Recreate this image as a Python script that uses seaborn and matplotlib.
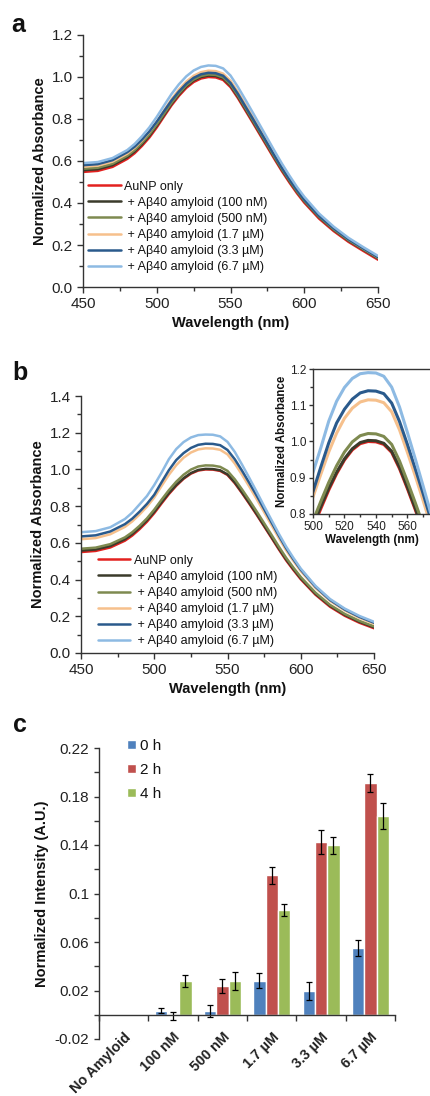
import numpy as np
import pandas as pd
import matplotlib
matplotlib.use("Agg")
import matplotlib.pyplot as plt
import seaborn as sns
from matplotlib.ticker import MultipleLocator, FixedLocator, FuncFormatter

# --- Data ---
WAVELENGTH = [450, 460, 470, 480, 485, 490, 495, 500, 505, 510, 515, 520, 525, 530,
              535, 540, 545, 550, 555, 560, 565, 570, 575, 580, 585, 590, 595, 600,
              610, 620, 630, 640, 650]

# panel a spectra
A_AUNP = [.548, .553, .572, .610, .637, .672, .712, .760, .813, .865, .910, .948, .976, .993,
          1.000, .998, .986, .952, .900, .842, .784, .725, .666, .607, .550, .497, .447, .402,
          .326, .266, .215, .172, .130]
A_100NM = [.556, .561, .580, .618, .645, .680, .720, .768, .820, .872, .917, .955, .983, 1.000,
           1.007, 1.005, .993, .959, .907, .849, .791, .732, .673, .614, .557, .504, .454, .409,
           .333, .272, .221, .178, .136]
A_500NM = [.563, .568, .587, .625, .652, .687, .727, .774, .826, .877, .922, .960, .988, 1.005,
           1.012, 1.010, .998, .964, .912, .854, .795, .736, .677, .617, .560, .507, .456, .411,
           .335, .274, .223, .180, .138]
A_1_7UM = [.573, .578, .597, .635, .663, .698, .739, .787, .841, .894, .940, .978, 1.006, 1.023,
           1.030, 1.028, 1.016, .982, .929, .870, .811, .751, .691, .631, .572, .518, .466, .420,
           .342, .280, .228, .184, .142]
A_3_3UM = [.580, .585, .604, .642, .668, .702, .741, .787, .838, .888, .931, .968, .996, 1.013,
           1.020, 1.018, 1.006, .972, .920, .861, .803, .743, .684, .624, .566, .512, .462, .416,
           .339, .279, .227, .184, .142]
A_6_7UM = [.590, .595, .614, .652, .681, .718, .760, .810, .865, .919, .965, 1.003, 1.031, 1.048,
           1.055, 1.053, 1.041, 1.007, .953, .893, .832, .770, .708, .646, .586, .530, .477, .430,
           .350, .287, .234, .190, .148]

# panel b spectra
B_AUNP = [.550, .556, .575, .612, .640, .675, .715, .762, .815, .866, .911, .949, .977, .994,
          1.000, .999, .992, .970, .925, .870, .812, .752, .690, .628, .565, .505, .452, .402,
          .318, .252, .203, .165, .135]
B_100NM = [.558, .564, .583, .620, .648, .683, .723, .769, .821, .871, .915, .952, .980, .997,
           1.003, 1.002, .995, .973, .929, .874, .816, .756, .694, .632, .570, .510, .457, .407,
           .323, .257, .208, .170, .140]
B_500NM = [.568, .574, .593, .630, .658, .693, .733, .781, .835, .887, .933, .971, .999, 1.016,
           1.022, 1.021, 1.014, .992, .946, .890, .831, .770, .707, .644, .580, .519, .465, .414,
           .329, .262, .213, .175, .145]
B_1_7UM = [.620, .626, .647, .687, .717, .755, .797, .847, .910, .971, 1.023, 1.064, 1.092, 1.109,
           1.115, 1.114, 1.107, 1.082, 1.032, .970, .905, .837, .767, .697, .627, .560, .501, .446,
           .355, .284, .232, .192, .160]
B_3_3UM = [.635, .641, .662, .702, .732, .770, .812, .862, .930, .996, 1.051, 1.089, 1.117, 1.134,
           1.140, 1.139, 1.132, 1.106, 1.055, .992, .925, .856, .784, .712, .640, .571, .510, .454,
           .361, .289, .237, .197, .165]
B_6_7UM = [.658, .664, .685, .730, .765, .810, .855, .915, .983, 1.056, 1.111, 1.149, 1.174, 1.187,
           1.190, 1.189, 1.180, 1.150, 1.095, 1.025, .952, .877, .800, .725, .650, .580, .518, .460,
           .366, .294, .242, .202, .170]

SAMPLES = ["AuNP only", " + Aβ40 amyloid (100 nM)", " + Aβ40 amyloid (500 nM)",
           " + Aβ40 amyloid (1.7 µM)", " + Aβ40 amyloid (3.3 µM)", " + Aβ40 amyloid (6.7 µM)"]
LINE_COLORS = ["#e3211f", "#3b3b2b", "#7e8a50", "#f6c08c", "#2a5a8c", "#8dbae3"]

# panel c bars
CONC_LABELS = ["No Amyloid", "100 nM", "500 nM", "1.7 µM", "3.3 µM", "6.7 µM"]
TIMES = ["0 h", "2 h", "4 h"]
INT_0H = [0.0, 0.0033, 0.0030, 0.0280, 0.0196, 0.0547]
INT_2H = [0.0, -0.0010, 0.0236, 0.1150, 0.1425, 0.1910]
INT_4H = [0.0, 0.0280, 0.0278, 0.0863, 0.1398, 0.1642]
ERR_0H = [0.0, 0.0020, 0.0047, 0.0063, 0.0077, 0.0066]
ERR_2H = [0.0, 0.0030, 0.0055, 0.0069, 0.0096, 0.0077]
ERR_4H = [0.0, 0.0050, 0.0077, 0.0047, 0.0069, 0.0107]
BAR_COLORS = ["#4f81bd", "#c0504d", "#9bbb59"]

W, H = 430, 1096


def spectra_frame(curves):
    rows = []
    for name, vals in zip(SAMPLES, curves):
        for wl, v in zip(WAVELENGTH, vals):
            rows.append({"wl": wl, "absorb": v, "sample": name})
    return pd.DataFrame(rows)


def px_axes(fig, left, top, right, bottom):
    return fig.add_axes([left / W, 1 - bottom / H, (right - left) / W, (bottom - top) / H])


def style_spectrum_axes(ax, ymax):
    sns.despine(ax=ax)
    ax.set_xlim(450, 650)
    ax.set_ylim(0, ymax)
    ax.xaxis.set_major_locator(MultipleLocator(50))
    ax.xaxis.set_minor_locator(MultipleLocator(25))
    ax.yaxis.set_major_locator(MultipleLocator(0.2))
    ax.yaxis.set_minor_locator(MultipleLocator(0.1))
    ax.yaxis.set_major_formatter(FuncFormatter(lambda v, p: f"{v:.1f}"))
    ax.tick_params(which="both", direction="out", labelsize=11, width=1)
    ax.tick_params(which="major", length=4)
    ax.tick_params(which="minor", length=3)
    ax.set_xlabel("Wavelength (nm)", fontsize=10.5, fontweight="bold", labelpad=3)
    ax.set_ylabel("Normalized Absorbance", fontsize=10.5, fontweight="bold", labelpad=3)


def draw_spectra(ax, curves, lw=1.8, legend=True):
    df = spectra_frame(curves)
    pal = dict(zip(SAMPLES, LINE_COLORS))
    sns.lineplot(data=df, x="wl", y="absorb", hue="sample", hue_order=SAMPLES,
                 palette=pal, linewidth=lw, errorbar=None, legend=legend, ax=ax)


def spectra_legend(ax, anchor):
    old = ax.get_legend()
    handles = old.legend_handles
    labels = [t.get_text() for t in old.get_texts()]
    ax.legend(handles, labels, loc="lower left", bbox_to_anchor=anchor, frameon=False,
              fontsize=9, handlelength=2.6, handletextpad=0.3, labelspacing=0.33,
              borderpad=0, borderaxespad=0)


def main():
    sns.set_style("ticks")
    plt.rcParams["font.family"] = ["Liberation Sans", "DejaVu Sans"]
    plt.rcParams.update({
        "axes.edgecolor": "#333333", "axes.linewidth": 1.0,
        "xtick.color": "#333333", "ytick.color": "#333333",
        "xtick.labelcolor": "#222222", "ytick.labelcolor": "#222222",
        "axes.labelcolor": "#111111", "text.color": "#111111",
    })

    fig = plt.figure(figsize=(W / 100, H / 100), dpi=100)

    # --- Panel a ---
    ax_a = px_axes(fig, 83, 35, 378, 287)
    draw_spectra(ax_a, [A_AUNP, A_100NM, A_500NM, A_1_7UM, A_3_3UM, A_6_7UM])
    style_spectrum_axes(ax_a, 1.2)
    spectra_legend(ax_a, (0.017, 0.055))

    # --- Panel b ---
    ax_b = px_axes(fig, 81, 396, 374, 653)
    b_curves = [B_AUNP, B_100NM, B_500NM, B_1_7UM, B_3_3UM, B_6_7UM]
    draw_spectra(ax_b, b_curves)
    style_spectrum_axes(ax_b, 1.4)
    spectra_legend(ax_b, (0.058, 0.022))

    # inset of panel b
    ax_in = px_axes(fig, 313, 369, 431, 514)
    draw_spectra(ax_in, b_curves, lw=2.2, legend=False)
    ax_in.set_xlim(500, 575)
    ax_in.set_ylim(0.8, 1.2)
    ax_in.spines["right"].set_visible(False)
    ax_in.xaxis.set_major_locator(MultipleLocator(20))
    ax_in.xaxis.set_minor_locator(MultipleLocator(10))
    ax_in.yaxis.set_major_locator(MultipleLocator(0.1))
    ax_in.yaxis.set_minor_locator(MultipleLocator(0.05))
    ax_in.yaxis.set_major_formatter(FuncFormatter(lambda v, p: f"{v:.1f}"))
    ax_in.tick_params(which="both", direction="out", labelsize=8.5, width=1, pad=2)
    ax_in.tick_params(which="major", length=3)
    ax_in.tick_params(which="minor", length=2)
    ax_in.set_xlabel("Wavelength (nm)", fontsize=8.4, fontweight="bold", labelpad=1)
    ax_in.set_ylabel("Normalized Absorbance", fontsize=8.3, fontweight="bold", labelpad=1)

    # --- Panel c ---
    ax_c = px_axes(fig, 99, 748, 395, 1039)
    df_c = pd.DataFrame({
        "conc": CONC_LABELS * 3,
        "time": np.repeat(TIMES, len(CONC_LABELS)),
        "value": INT_0H + INT_2H + INT_4H,
    })
    sns.barplot(data=df_c, x="conc", y="value", hue="time", hue_order=TIMES,
                palette=dict(zip(TIMES, BAR_COLORS)), width=0.75, saturation=1,
                errorbar=None, ax=ax_c)
    for container, errs in zip(ax_c.containers, [ERR_0H, ERR_2H, ERR_4H]):
        for patch in container:
            cx = patch.get_x() + patch.get_width() / 2
            cat = int(round(cx))
            if errs[cat] == 0:
                continue
            top = patch.get_y() + patch.get_height()
            ax_c.errorbar(cx, top, yerr=errs[cat], color="black", lw=0.9,
                          capsize=2.5, capthick=0.9)

    sns.despine(ax=ax_c)
    ax_c.spines["bottom"].set_position(("data", 0))
    ax_c.set_xlim(-0.5, 5.5)
    ax_c.set_ylim(-0.02, 0.22)
    ax_c.yaxis.set_major_locator(FixedLocator([-0.02, 0.02, 0.06, 0.1, 0.14, 0.18, 0.22]))
    ax_c.yaxis.set_minor_locator(FixedLocator([0.0, 0.04, 0.08, 0.12, 0.16, 0.2]))
    ax_c.yaxis.set_major_formatter(FuncFormatter(lambda v, p: f"{v:g}"))
    ax_c.xaxis.set_minor_locator(FixedLocator(np.arange(-0.5, 6, 1)))
    ax_c.set_xticks(range(len(CONC_LABELS)))
    ax_c.set_xticklabels(CONC_LABELS, rotation=45, ha="right", rotation_mode="anchor",
                         fontsize=10.3, fontweight="bold")
    ax_c.tick_params(axis="x", which="major", length=0, pad=11)
    ax_c.tick_params(axis="x", which="minor", length=4, direction="out", width=1)
    ax_c.tick_params(axis="y", which="both", length=3.5, direction="out",
                     labelsize=11, width=1)
    ax_c.set_xlabel("")
    ax_c.set_ylabel("Normalized Intensity (A.U.)", fontsize=10.5, fontweight="bold",
                    labelpad=4)
    sns.move_legend(ax_c, "upper left", bbox_to_anchor=(0.095, 1.03), frameon=False,
                    title=None, fontsize=11, handlelength=0.55, handleheight=0.55,
                    handletextpad=0.3, labelspacing=0.65, borderpad=0, borderaxespad=0)

    # panel letters
    for letter, x, y in [("a", 18, 25), ("b", 20, 373), ("c", 20, 725)]:
        fig.text(x / W, 1 - y / H, letter, fontsize=18, fontweight="bold",
                 ha="center", va="center")

    fig.savefig("out.png", dpi=100)


if __name__ == "__main__":
    main()
